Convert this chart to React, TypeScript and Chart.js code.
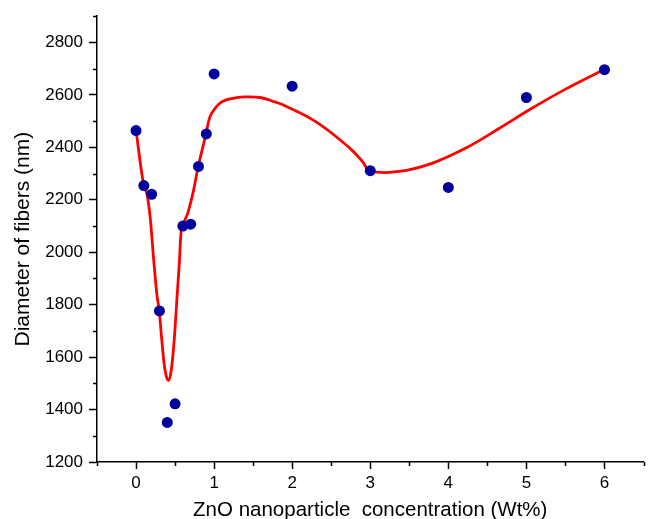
import React, { useEffect, useRef } from "react";
import { Chart, registerables } from "chart.js";

Chart.register(...registerables);

// Measured data points (ZnO wt% vs fiber diameter, nm)
const concentrations = [0, 0.1, 0.2, 0.3, 0.4, 0.5, 0.6, 0.7, 0.8, 0.9, 1, 2, 3, 4, 5, 6];
const diameters = [2464, 2254, 2221, 1776, 1351, 1422, 2100, 2107, 2327, 2451, 2680, 2633, 2311, 2247, 2590, 2696];

// Red fitted curve
const fitX = [0, 0.097, 0.14, 0.182, 0.224, 0.267, 0.297, 0.331, 0.373, 0.415, 0.45, 0.488, 0.522, 0.556, 0.586, 0.628, 0.67, 0.734, 0.797, 0.896, 0.946, 1.01, 1.096, 1.223, 1.39, 1.605, 1.775, 1.88, 2.306, 2.73, 2.9, 2.994, 3.367, 3.79, 4.217, 4.64, 5.065, 5.49, 5.987];
const fitY = [2464, 2257, 2221, 2130, 1978, 1839, 1776, 1662, 1548, 1510, 1548, 1662, 1814, 1966, 2099, 2124, 2156, 2232, 2327, 2451, 2516, 2548, 2573, 2586, 2592, 2589, 2573, 2562, 2497, 2399, 2346, 2311, 2308, 2339, 2396, 2470, 2548, 2620, 2696];

// Axis ticks
const xTicks = [0, 1, 2, 3, 4, 5, 6];
const xMinorTicks = [-0.5, 0.5, 1.5, 2.5, 3.5, 4.5, 5.5, 6.5];
const yTicks = [1200, 1400, 1600, 1800, 2000, 2200, 2400, 2600, 2800];
const yMinorTicks = [1300, 1500, 1700, 1900, 2100, 2300, 2500, 2700, 2900];

const FONT = "'Liberation Sans', Arial, Helvetica, sans-serif";

const minorTickPlugin = {
  id: "minorTicks",
  afterDraw(chart: any) {
    const { ctx, chartArea, scales } = chart;
    ctx.save();
    ctx.strokeStyle = "#000";
    ctx.lineWidth = 1.5;
    ctx.beginPath();
    xMinorTicks.forEach((v) => {
      const px = Math.round(scales.x.getPixelForValue(v)) + 0.5;
      ctx.moveTo(px, chartArea.bottom);
      ctx.lineTo(px, chartArea.bottom + 4);
    });
    yMinorTicks.forEach((v) => {
      const py = Math.round(scales.y.getPixelForValue(v)) + 0.5;
      ctx.moveTo(chartArea.left, py);
      ctx.lineTo(chartArea.left - 4, py);
    });
    ctx.stroke();
    ctx.restore();
  },
};

export default function App() {
  const canvasRef = useRef<HTMLCanvasElement | null>(null);

  useEffect(() => {
    if (!canvasRef.current) return;
    const chart = new Chart(canvasRef.current, {
      type: "scatter",
      data: {
        datasets: [
          {
            label: "Data",
            data: concentrations.map((x, i) => ({ x, y: diameters[i] })),
            backgroundColor: "#00009c",
            borderColor: "#00009c",
            pointRadius: 5.5,
            pointHoverRadius: 5.5,
            borderWidth: 0,
            showLine: false,
            order: 0,
          },
          {
            label: "Fit",
            data: fitX.map((x, i) => ({ x, y: fitY[i] })),
            borderColor: "#ff0000",
            backgroundColor: "#ff0000",
            borderWidth: 2.8,
            pointRadius: 0,
            showLine: true,
            tension: 0.4,
            order: 1,
          } as any,
        ],
      },
      options: {
        responsive: false,
        animation: false,
        devicePixelRatio: 1,
        layout: { padding: { top: 14, right: 4, left: 0, bottom: 0 } },
        plugins: {
          legend: { display: false },
          tooltip: { enabled: false },
        },
        scales: {
          x: {
            type: "linear",
            min: -0.5,
            max: 6.5,
            afterFit: (scale: any) => {
              scale.height = 57;
            },
            afterBuildTicks: (scale: any) => {
              scale.ticks = xTicks.map((v) => ({ value: v }));
            },
            border: { display: true, color: "#000", width: 1.5 },
            grid: {
              drawOnChartArea: false,
              drawTicks: true,
              tickLength: 7,
              tickColor: "#000",
              tickWidth: 1.5,
            },
            ticks: {
              color: "#000",
              font: { family: FONT, size: 17 },
              padding: 4,
              maxRotation: 0,
              callback: (v: any) => String(v),
            },
            title: {
              display: true,
              text: "ZnO nanoparticle  concentration (Wt%)",
              color: "#000",
              font: { family: FONT, size: 20.5, lineHeight: "18px" },
              padding: { top: 0, bottom: 0 },
            },
          },
          y: {
            type: "linear",
            min: 1200,
            max: 2900,
            afterFit: (scale: any) => {
              scale.width = 97;
            },
            afterBuildTicks: (scale: any) => {
              scale.ticks = yTicks.map((v) => ({ value: v }));
            },
            border: { display: true, color: "#000", width: 1.5 },
            grid: {
              drawOnChartArea: false,
              drawTicks: true,
              tickLength: 8,
              tickColor: "#000",
              tickWidth: 1.5,
            },
            ticks: {
              color: "#000",
              font: { family: FONT, size: 17 },
              padding: 6,
              callback: (v: any) => String(v),
            },
            title: {
              display: true,
              text: "Diameter of fibers (nm)",
              color: "#000",
              font: { family: FONT, size: 21, lineHeight: 1.2 },
              padding: { top: 11, bottom: 0 },
            },
          },
        },
      },
      plugins: [minorTickPlugin],
    });
    return () => chart.destroy();
  }, []);

  return (
    <div style={{ position: "absolute", left: 0, top: 0, width: 649, height: 519, background: "#fff" }}>
      <canvas ref={canvasRef} width={649} height={519} style={{ width: 649, height: 519, display: "block" }} />
    </div>
  );
}
